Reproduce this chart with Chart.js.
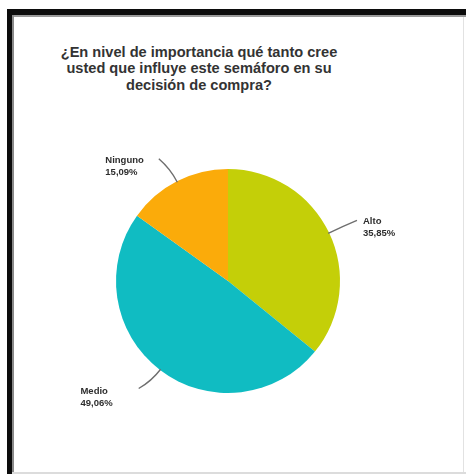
<!DOCTYPE html>
<html lang="es">
<head>
<meta charset="utf-8">
<title>Semáforo - decisión de compra</title>
<script src="https://cdn.jsdelivr.net/npm/chart.js@4.4.1/dist/chart.umd.min.js"></script>
<style>
  html, body { margin: 0; padding: 0; background: #ffffff; }
  body { width: 466px; height: 474px; position: relative; overflow: hidden; }
  .frame-top { position: absolute; left: 7px; top: 9px; width: 459px; height: 6px; background: #0c0c0c; }
  .frame-top-shade { position: absolute; left: 12px; top: 15px; width: 454px; height: 2px; background: #9a9a9a; }
  .frame-left { position: absolute; left: 7px; top: 9px; width: 5px; height: 465px; background: #0c0c0c; }
  .frame-left-shade { position: absolute; left: 12px; top: 15px; width: 2px; height: 459px; background: #8a8a8a; }
  .frame-right { position: absolute; left: 463px; top: 17px; width: 1px; height: 457px; background: #e2e2e2; }
  .frame-bottom { position: absolute; left: 12px; top: 472px; width: 454px; height: 2px; background: #dcdcdc; }
  .title {
    position: absolute; left: 12px; top: 44px; width: 374px;
    text-align: center; font-family: "Liberation Sans", Arial, sans-serif;
    font-weight: bold; font-size: 14.6px; line-height: 16.3px; color: #333333;
  }
  .chart-box { position: absolute; left: 0; top: 0; width: 466px; height: 474px; }
</style>
</head>
<body>
<div class="frame-top"></div>
<div class="frame-top-shade"></div>
<div class="frame-left"></div>
<div class="frame-left-shade"></div>
<div class="frame-right"></div>
<div class="frame-bottom"></div>
<div class="title">¿En nivel de importancia qué tanto cree<br>usted que influye este semáforo en su<br>decisión de compra?</div>
<div class="chart-box"><canvas id="pie"></canvas></div>
<script>
// Response categories and their shares (%)
const categories = ['Alto', 'Medio', 'Ninguno'];
const shares = [35.85, 49.06, 15.09];
const shareLabels = ['35,85%', '49,06%', '15,09%'];
const sliceColors = ['#c4cf08', '#10bcc2', '#fbab0a'];

// Draws each slice's name and percentage outside the pie with a leader line
const outsideLabels = {
  id: 'outsideLabels',
  afterDatasetsDraw(chart) {
    const ctx = chart.ctx;
    const meta = chart.getDatasetMeta(0);
    ctx.save();
    ctx.font = 'bold 9.5px "Liberation Sans", Arial, sans-serif';
    ctx.textBaseline = 'alphabetic';
    meta.data.forEach((arc, i) => {
      const p = arc.getProps(['x', 'y', 'startAngle', 'endAngle', 'outerRadius'], true);
      const mid = (p.startAngle + p.endAngle) / 2;
      const cos = Math.cos(mid), sin = Math.sin(mid);
      const side = cos >= 0 ? 1 : -1;
      const lower = sin > 0;
      const r0 = p.outerRadius - 1;
      const r1 = p.outerRadius + 22;
      const sx = p.x + cos * r0, sy = p.y + sin * r0;
      const ex = p.x + cos * r1 + side * 8, ey = p.y + sin * r1 + (lower ? 1 : -3);
      const cx = p.x + cos * (p.outerRadius + 14), cy = p.y + sin * (p.outerRadius + 14);

      ctx.strokeStyle = '#6e6e6e';
      ctx.lineWidth = 1.4;
      ctx.beginPath();
      ctx.moveTo(sx, sy);
      ctx.quadraticCurveTo(cx, cy, ex, ey);
      ctx.stroke();

      const lines = [categories[i], shareLabels[i]];
      const w = Math.max(...lines.map(t => ctx.measureText(t).width));
      const gap = side > 0 ? 6 : (lower ? 26 : 15);
      const tx = side > 0 ? ex + gap : ex - gap - w;
      const ty = ey + (lower ? 6 : 4);
      ctx.fillStyle = '#2e2e2e';
      ctx.textAlign = 'left';
      lines.forEach((t, k) => ctx.fillText(t, tx, ty + k * 12));
    });
    ctx.restore();
  }
};

new Chart(document.getElementById('pie'), {
  type: 'pie',
  data: {
    labels: categories,
    datasets: [{
      data: shares,
      backgroundColor: sliceColors,
      borderWidth: 0
    }]
  },
  options: {
    responsive: true,
    maintainAspectRatio: false,
    animation: false,
    layout: { padding: { left: 116, right: 126, top: 169, bottom: 81 } },
    plugins: {
      legend: { display: false },
      tooltip: { enabled: false },
      title: { display: false }
    }
  },
  plugins: [outsideLabels]
});
</script>
</body>
</html>
